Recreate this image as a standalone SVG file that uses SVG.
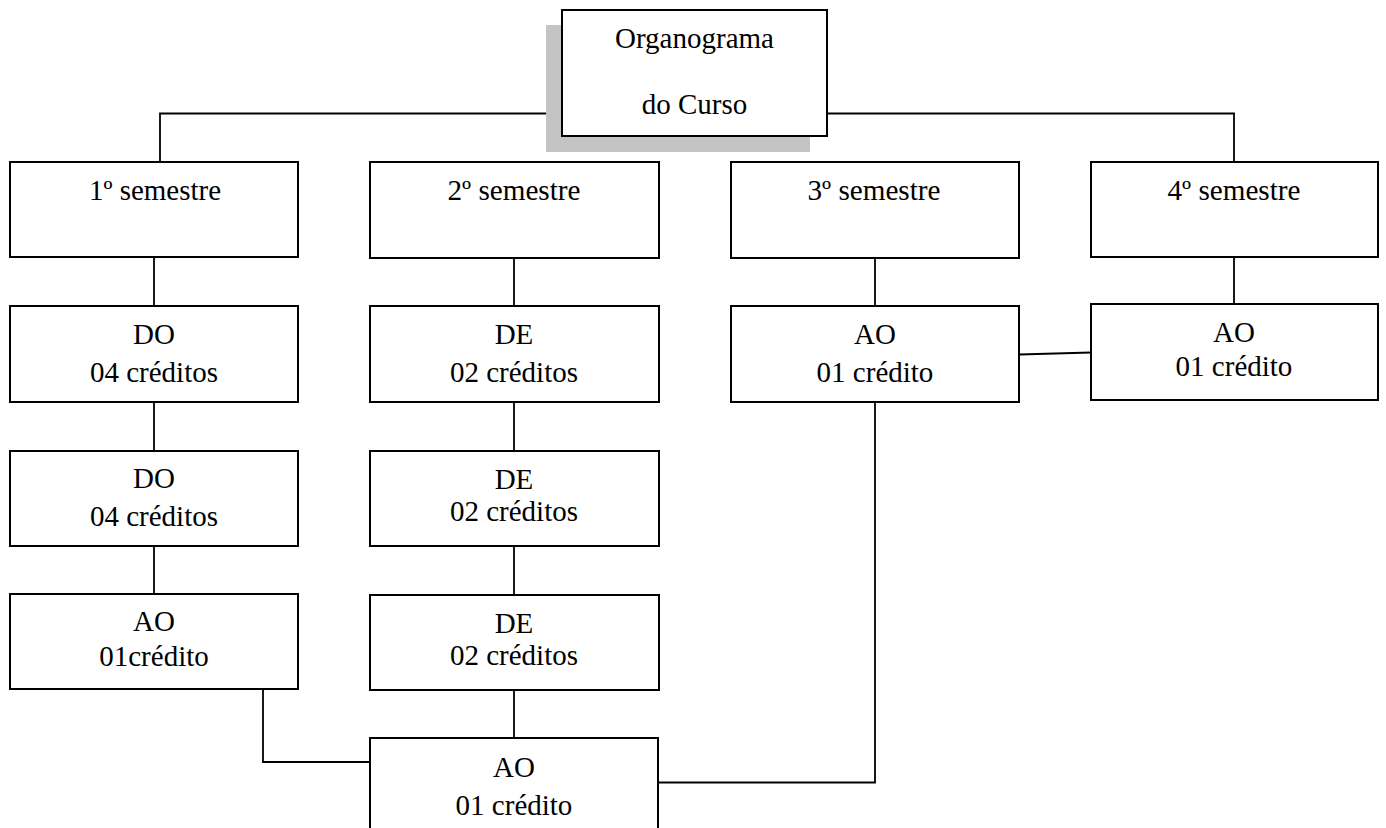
<svg xmlns="http://www.w3.org/2000/svg" width="1386" height="828" viewBox="0 0 1386 828">
<style>
  .box { fill: #ffffff; stroke: #000000; stroke-width: 2; }
  .shadow { fill: #c4c4c4; stroke: none; }
  .conn { fill: none; stroke: #000000; stroke-width: 1.8; }
  text { font-family: "Liberation Serif", "Times New Roman", serif; font-size: 29px; fill: #000000; text-anchor: middle; }
</style>
<rect x="0" y="0" width="1386" height="828" fill="#ffffff"/>

<g id="connectors">
  <polyline class="conn" points="562,113.5 160,113.5 160,162"/>
  <polyline class="conn" points="827,113.5 1234,113.5 1234,162"/>
  <line class="conn" x1="154" y1="257" x2="154" y2="306"/>
  <line class="conn" x1="154" y1="402" x2="154" y2="451"/>
  <line class="conn" x1="154" y1="546" x2="154" y2="594"/>
  <line class="conn" x1="514" y1="258" x2="514" y2="306"/>
  <line class="conn" x1="514" y1="402" x2="514" y2="451"/>
  <line class="conn" x1="514" y1="546" x2="514" y2="595"/>
  <line class="conn" x1="514" y1="690" x2="514" y2="738"/>
  <line class="conn" x1="875" y1="258" x2="875" y2="306"/>
  <line class="conn" x1="1234" y1="257" x2="1234" y2="304"/>
  <line class="conn" x1="1019" y1="354.5" x2="1091" y2="352.5"/>
  <polyline class="conn" points="263,689 263,762 370,762"/>
  <polyline class="conn" points="658,782.5 875,782.5 875,402"/>
</g>

<g id="node-organograma">
  <rect class="shadow" x="546" y="25" width="264" height="127"/>
  <rect class="box" x="562" y="10" width="265" height="126"/>
  <text x="694.5" y="48">Organograma</text>
  <text x="694.5" y="114">do Curso</text>
</g>

<g id="node-sem1">
  <rect class="box" x="10" y="162" width="288" height="95"/>
  <text x="155" y="200" textLength="132" lengthAdjust="spacingAndGlyphs">1º semestre</text>
</g>
<g id="node-sem2">
  <rect class="box" x="370" y="162" width="289" height="96"/>
  <text x="514" y="200" textLength="133" lengthAdjust="spacingAndGlyphs">2º semestre</text>
</g>
<g id="node-sem3">
  <rect class="box" x="731" y="162" width="288" height="96"/>
  <text x="874" y="200" textLength="133" lengthAdjust="spacingAndGlyphs">3º semestre</text>
</g>
<g id="node-sem4">
  <rect class="box" x="1091" y="162" width="287" height="95"/>
  <text x="1234" y="200" textLength="133" lengthAdjust="spacingAndGlyphs">4º semestre</text>
</g>

<g id="node-c1r2">
  <rect class="box" x="10" y="306" width="288" height="96"/>
  <text x="154" y="344">DO</text>
  <text x="154" y="382">04 créditos</text>
</g>
<g id="node-c1r3">
  <rect class="box" x="10" y="451" width="288" height="95"/>
  <text x="154" y="488">DO</text>
  <text x="154" y="526">04 créditos</text>
</g>
<g id="node-c1r4">
  <rect class="box" x="10" y="594" width="288" height="95"/>
  <text x="154" y="631">AO</text>
  <text x="154" y="666">01crédito</text>
</g>

<g id="node-c2r2">
  <rect class="box" x="370" y="306" width="289" height="96"/>
  <text x="514" y="344">DE</text>
  <text x="514" y="382">02 créditos</text>
</g>
<g id="node-c2r3">
  <rect class="box" x="370" y="451" width="289" height="95"/>
  <text x="514" y="489">DE</text>
  <text x="514" y="521">02 créditos</text>
</g>
<g id="node-c2r4">
  <rect class="box" x="370" y="595" width="289" height="95"/>
  <text x="514" y="633">DE</text>
  <text x="514" y="665">02 créditos</text>
</g>

<g id="node-c3r2">
  <rect class="box" x="731" y="306" width="288" height="96"/>
  <text x="875" y="344">AO</text>
  <text x="875" y="382">01 crédito</text>
</g>
<g id="node-c4r2">
  <rect class="box" x="1091" y="304" width="287" height="96"/>
  <text x="1234" y="342">AO</text>
  <text x="1234" y="376">01 crédito</text>
</g>

<g id="node-final">
  <rect class="box" x="370" y="738" width="288" height="110"/>
  <text x="514" y="777">AO</text>
  <text x="514" y="815">01 crédito</text>
</g>
</svg>
